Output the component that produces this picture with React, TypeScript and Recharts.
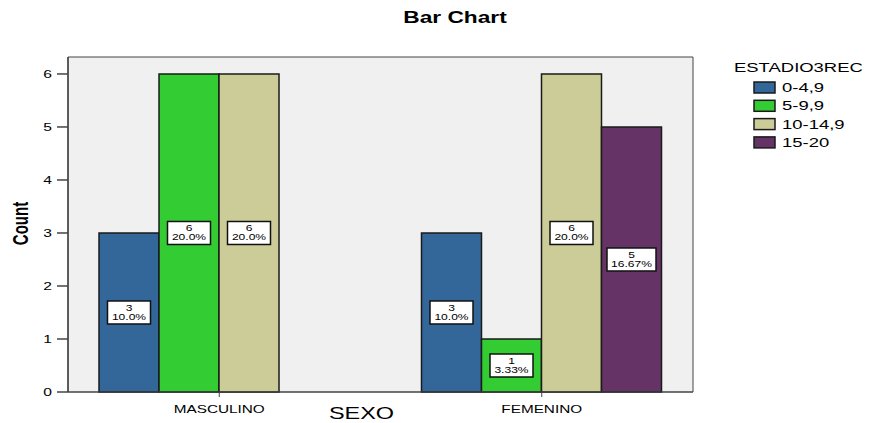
import { BarChart, Bar, XAxis, YAxis, CartesianGrid, LabelList } from 'recharts';

const categories = ['MASCULINO', 'FEMENINO'];
const seriesNames = ['0-4,9', '5-9,9', '10-14,9', '15-20'];
const seriesColors = ['#336699', '#33cc33', '#cccc99', '#663366'];
const counts04 = [3, 3];
const counts59 = [6, 1];
const counts1014 = [6, 6];
const counts1520 = [null, 5];
const yTicks = [0, 1, 2, 3, 4, 5, 6];

const seriesValues = [counts04, counts59, counts1014, counts1520];
const total = seriesValues.flat().reduce((s: number, v) => s + (v ?? 0), 0);

const data = categories.map((name, i) => {
  const row: Record<string, any> = { name };
  seriesNames.forEach((s, k) => {
    row[s] = seriesValues[k][i];
  });
  return row;
});

// SPSS output looks stretched horizontally, mimic it
const SX = 1.42;
const FONT = 'Liberation Sans, Arial, sans-serif';

function SText({ x, y, size, bold, anchor = 'start', rotate, sx = SX, children }: any) {
  const tf = `translate(${x},${y}) scale(${sx},1)` + (rotate ? ` rotate(${rotate})` : '');
  return (
    <text
      transform={tf}
      fontSize={size}
      fontWeight={bold ? 'bold' : 'normal'}
      textAnchor={anchor}
      fontFamily={FONT}
      fill="#000"
    >
      {children}
    </text>
  );
}

const fmtPct = (v: number) => {
  const p = (v / total) * 100;
  let s = p.toFixed(2);
  if (s.endsWith('0')) s = p.toFixed(1);
  return s + '%';
};

function ValueBox(props: any) {
  const { x, y, width, height, value } = props;
  if (value == null || value === 0) return null;
  const pct = fmtPct(value);
  const cx = x + width / 2;
  const cy = y + height / 2;
  const w = 13 + 6 * pct.length;
  const h = 23;
  return (
    <g>
      <rect x={cx - w / 2} y={cy - h / 2} width={w} height={h} fill="#fff" stroke="#111" strokeWidth={1.5} />
      <SText x={cx} y={cy - 1.5} size={8.5} anchor="middle">{value}</SText>
      <SText x={cx} y={cy + 7.5} size={8.5} anchor="middle">{pct}</SText>
    </g>
  );
}

const XTick = ({ x, y, payload }: any) => (
  <SText x={x} y={y + 16} size={10.8} anchor="middle">{payload.value}</SText>
);

const YTick = ({ x, y, payload }: any) => (
  <SText x={x} y={y + 4} size={11} anchor="end">{payload.value}</SText>
);

export default function App() {
  return (
    <div style={{ position: 'relative', width: 864, height: 415 }}>
      <BarChart
        width={864}
        height={415}
        data={data}
        margin={{ top: 49, right: 179, bottom: 0, left: 0 }}
        barGap={0}
        barSize={60}
      >
        <CartesianGrid
          fill="#f0f0f0"
          stroke="#444"
          horizontalCoordinatesGenerator={({ offset }: any) => [offset.top, offset.top + offset.height]}
          verticalCoordinatesGenerator={({ offset }: any) => [offset.left, offset.left + offset.width]}
        />
        <XAxis
          dataKey="name"
          height={31}
          padding={{ left: -10, right: -10 }}
          tickSize={5}
          tickMargin={0}
          stroke="#444"
          tick={<XTick />}
          label={{
            content: ({ viewBox }: any) => (
              <SText x={viewBox.x + viewBox.width / 2 - 19} y={viewBox.y + 27} size={16.5} anchor="middle">
                SEXO
              </SText>
            ),
          }}
        />
        <YAxis
          width={60}
          domain={[0, 6.32]}
          ticks={yTicks}
          tickSize={11}
          tickMargin={5}
          stroke="#444"
          strokeWidth={1.5}
          tick={<YTick />}
          label={{
            content: ({ viewBox }: any) => (
              <SText x={viewBox.x + 20} y={viewBox.y + viewBox.height / 2 - 1} size={15} bold anchor="middle" rotate={-90}>
                Count
              </SText>
            ),
          }}
        />
        {seriesNames.map((s, k) => (
          <Bar key={s} dataKey={s} fill={seriesColors[k]} stroke="#1a1a1a" strokeWidth={1.5} isAnimationActive={false}>
            <LabelList dataKey={s} content={<ValueBox />} />
          </Bar>
        ))}
      </BarChart>
      <svg width={864} height={415} style={{ position: 'absolute', left: 0, top: 0, pointerEvents: 'none' }}>
        <SText x={447} y={15} size={16} bold anchor="middle">Bar Chart</SText>
        <SText x={726} y={64} size={13}>ESTADIO3REC</SText>
        {seriesNames.map((s, k) => (
          <g key={s}>
            <rect x={746} y={74 + k * 18.3} width={21} height={11} fill={seriesColors[k]} stroke="#1a1a1a" strokeWidth={1.5} />
            <SText x={774} y={84 + k * 18.3} size={13}>{s}</SText>
          </g>
        ))}
      </svg>
    </div>
  );
}
